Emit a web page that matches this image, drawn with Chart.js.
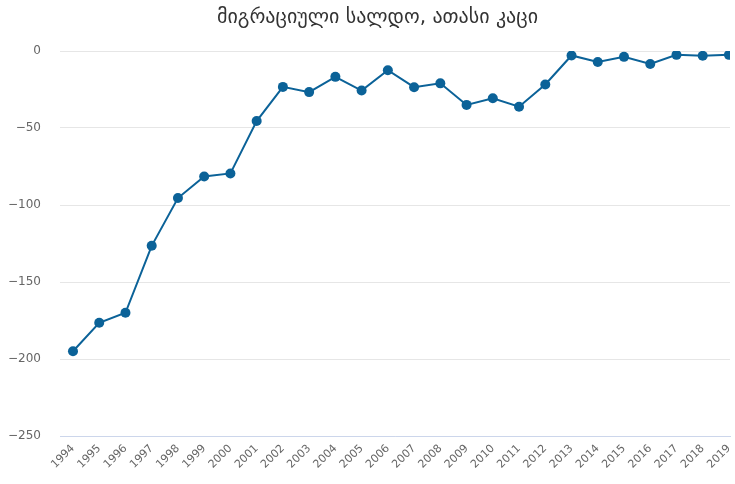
<!DOCTYPE html>
<html>
<head>
<meta charset="utf-8">
<script src="https://cdn.jsdelivr.net/npm/chart.js@4"></script>
<style>
  html, body { margin: 0; padding: 0; background: #fff; }
  #wrap { width: 735px; height: 484px; }
</style>
</head>
<body>
<div id="wrap"><canvas id="myChart" width="735" height="484"></canvas></div>
<script>
// migration balance, thousand people
const titleText = 'მიგრაციული სალდო, ათასი კაცი';
const years = [1994, 1995, 1996, 1997, 1998, 1999, 2000, 2001, 2002, 2003, 2004, 2005, 2006,
  2007, 2008, 2009, 2010, 2011, 2012, 2013, 2014, 2015, 2016, 2017, 2018, 2019];
const balance = [-195, -176.5, -170, -126.5, -95.5, -81.5, -79.5, -45.5, -23.3, -26.7, -16.8, -25.7, -12.5,
  -23.5, -21, -35, -30.7, -36.2, -21.7, -2.9, -7.1, -3.8, -8.4, -2.5, -3.1, -2.5];
const yTicks = [0, -50, -100, -150, -200, -250];

const lineColor = '#0b6298';
const fontFamily = '"DejaVu Sans", sans-serif';

// title is drawn a bit right of the canvas centre, like the original
const titlePlugin = {
  id: 'shiftedTitle',
  afterDraw: (chart) => {
    const c = chart.ctx;
    c.save();
    c.font = '20px ' + fontFamily;
    c.fillStyle = '#333333';
    c.textAlign = 'center';
    c.textBaseline = 'middle';
    c.fillText(titleText, 377.5, 18);
    c.restore();
  }
};

const ctx = document.getElementById('myChart').getContext('2d');
const chart = new Chart(ctx, {
  type: 'line',
  data: {
    datasets: [{
      label: titleText,
      data: years.map((yr, i) => ({ x: yr, y: balance[i] })),
      borderColor: lineColor,
      backgroundColor: lineColor,
      borderWidth: 2,
      pointRadius: 5,
      pointHoverRadius: 5,
      pointBorderWidth: 0,
      tension: 0
    }]
  },
  options: {
    responsive: false,
    animation: false,
    layout: { padding: { left: 0, right: 0, top: 51, bottom: 0 } },
    plugins: {
      legend: { display: false },
      tooltip: { enabled: false },
      title: { display: false }
    },
    scales: {
      x: {
        type: 'linear',
        min: 1993.505,
        max: 2019.04,
        afterBuildTicks: (scale) => {
          scale.ticks = years.map(v => ({ value: v }));
        },
        afterFit: (scale) => {
          scale.height = 48;
          scale.paddingLeft = 0;
          scale.paddingRight = 0;
        },
        grid: { display: false, drawTicks: false },
        border: { display: true, color: '#ccd6eb', width: 1 },
        ticks: {
          autoSkip: false,
          maxRotation: 45,
          minRotation: 45,
          padding: 6,
          color: '#666666',
          font: { family: fontFamily, size: 11 },
          callback: (v) => String(v)
        }
      },
      y: {
        min: -250,
        max: 0,
        afterBuildTicks: (scale) => {
          scale.ticks = yTicks.map(v => ({ value: v }));
        },
        afterFit: (scale) => {
          scale.width = 60;
          scale.paddingTop = 0;
          scale.paddingBottom = 0;
        },
        grid: { color: '#e6e6e6', drawTicks: false },
        border: { display: false },
        ticks: {
          padding: 19,
          color: '#666666',
          font: { family: fontFamily, size: 12 },
          callback: (v) => String(v).replace('-', '\u2212')
        }
      }
    }
  },
  plugins: [titlePlugin]
});
</script>
</body>
</html>
